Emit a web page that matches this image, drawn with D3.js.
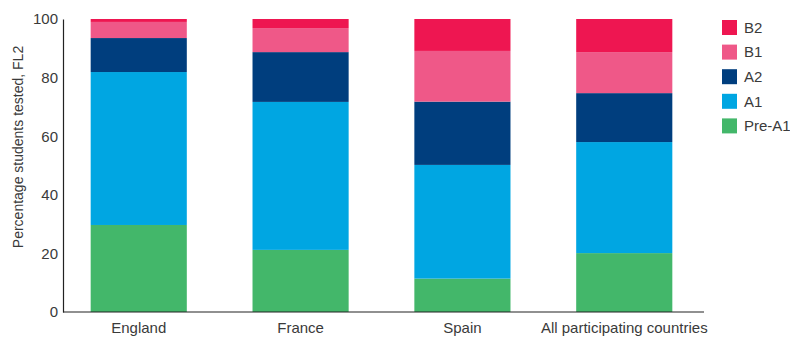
<!DOCTYPE html>
<html>
<head>
<meta charset="utf-8">
<script src="https://cdn.jsdelivr.net/npm/d3@7"></script>
<style>
body { margin: 0; background: #fff; }
svg { display: block; }
text { font-family: "Liberation Sans", Arial, sans-serif; fill: #3a3a3a; }
</style>
</head>
<body>
<svg id="chart" width="790" height="338"></svg>
<script>
const categories = ["England", "France", "Spain", "All participating countries"];
const levels = ["Pre-A1", "A1", "A2", "B1", "B2"];
const preA1 = [29.7, 21.2, 11.4, 20.1];
const a1 = [52.2, 50.5, 38.8, 37.9];
const a2 = [11.6, 17.0, 21.6, 16.7];
const b1 = [5.5, 8.2, 17.3, 14.0];
const b2 = [1.0, 3.1, 10.9, 11.3];
const yTicks = [0, 20, 40, 60, 80, 100];
const colors = ["#43B76A", "#00A6E2", "#003E7E", "#EF5888", "#EE1651"];
const yLabel = "Percentage students tested, FL2";

const seriesValues = [preA1, a1, a2, b1, b2];
const rows = categories.map((c, i) => {
  const r = { cat: c };
  levels.forEach((l, j) => r[l] = seriesValues[j][i]);
  return r;
});

const svg = d3.select("#chart");
const x = d3.scaleBand().domain(categories).range([63, 700]).paddingInner(0.406).paddingOuter(0.171);
const y = d3.scaleLinear().domain([0, 100]).range([312, 19]);
const color = d3.scaleOrdinal().domain(levels).range(colors);

const stack = d3.stack().keys(levels)(rows);

svg.append("g").selectAll("g").data(stack).join("g")
  .attr("fill", d => color(d.key))
  .selectAll("rect").data(d => d).join("rect")
  .attr("x", d => x(d.data.cat))
  .attr("width", x.bandwidth())
  .attr("y", d => y(d[1]))
  .attr("height", d => y(d[0]) - y(d[1]));

// y axis
const yAxis = svg.append("g").attr("transform", "translate(63,0)")
  .call(d3.axisLeft(y).tickValues(yTicks).tickSize(0).tickPadding(5));
yAxis.select(".domain").attr("stroke", "#222").attr("stroke-width", 1.2);
yAxis.selectAll("text").style("font-size", "15px").style("fill", "#3a3a3a")
  .style("font-family", "'Liberation Sans', Arial, sans-serif");

// x axis
const xAxis = svg.append("g").attr("transform", "translate(0,312)")
  .call(d3.axisBottom(x).tickSize(0).tickPadding(10));
xAxis.select(".domain").attr("d", "M63,0H704").attr("stroke", "#222").attr("stroke-width", 1.2);
xAxis.selectAll("text").style("font-size", "15px").style("fill", "#3a3a3a")
  .style("font-family", "'Liberation Sans', Arial, sans-serif");

// y label
svg.append("text")
  .attr("transform", "translate(23,147) rotate(-90)")
  .attr("text-anchor", "middle")
  .style("font-size", "14px")
  .text(yLabel);

// legend
const legendOrder = levels.slice().reverse();
const lg = svg.append("g").selectAll("g").data(legendOrder).join("g")
  .attr("transform", (d, i) => `translate(722,${20 + i * 24.6})`);
lg.append("rect").attr("width", 15).attr("height", 15).attr("fill", d => color(d));
lg.append("text").attr("x", 22).attr("y", 7.5).attr("dy", "0.35em")
  .style("font-size", "15px").text(d => d);
</script>
</body>
</html>
